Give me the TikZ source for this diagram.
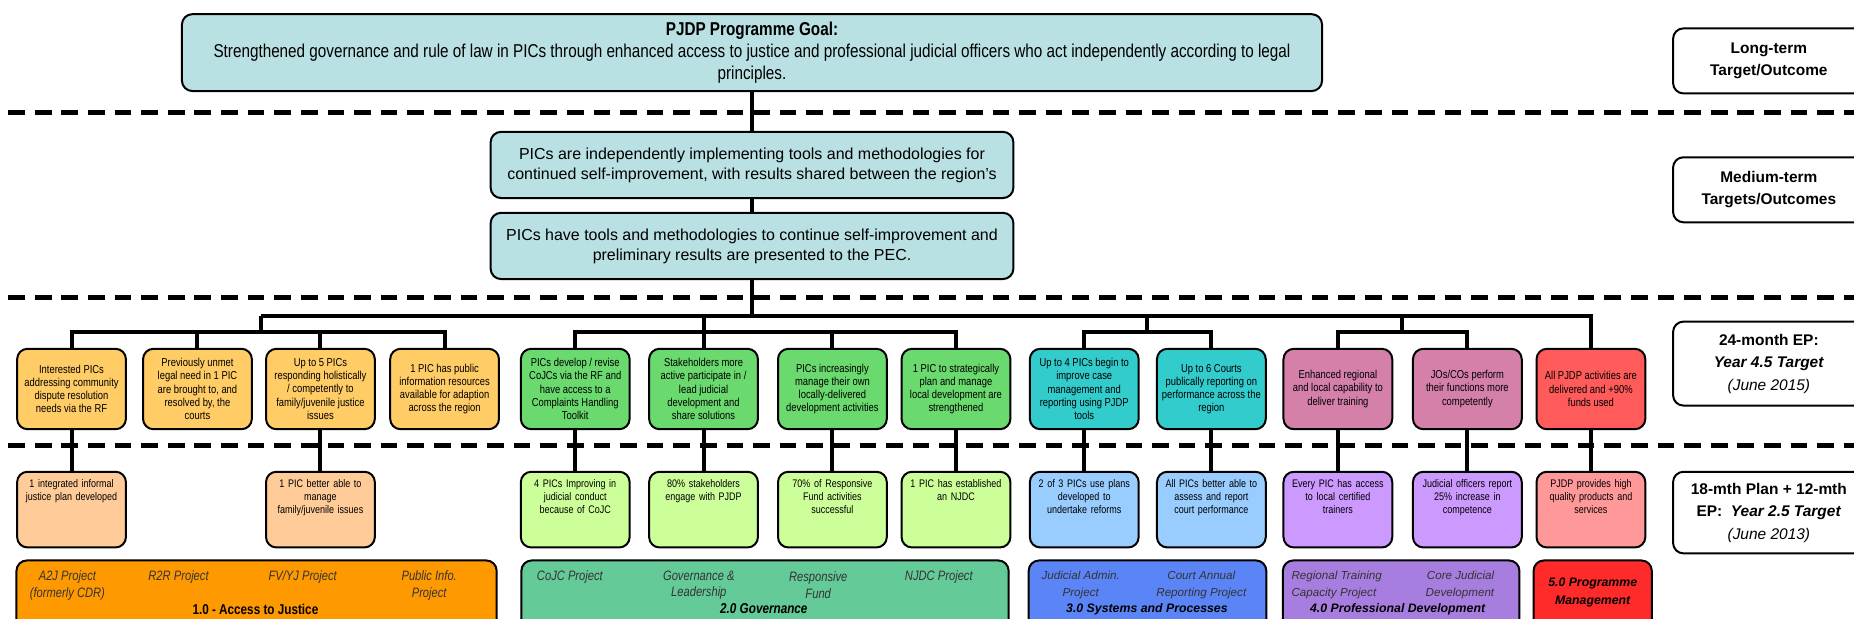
\documentclass[tikz,border=0pt]{standalone}
\usepackage{fontspec}
\setmainfont{Liberation Sans}
\newfontfamily\narrowfont[FakeStretch=0.82]{Liberation Sans}

\definecolor{goalblue}{HTML}{B9E0E2}
\definecolor{ajmid}{HTML}{FFCC66}
\definecolor{govmid}{HTML}{6AD96E}
\definecolor{sysmid}{HTML}{33CCCC}
\definecolor{promid}{HTML}{D580A9}
\definecolor{pmmid}{HTML}{FF5B5B}
\definecolor{ajlight}{HTML}{FFCC99}
\definecolor{govlight}{HTML}{CCFF99}
\definecolor{syslight}{HTML}{99CCFF}
\definecolor{prolight}{HTML}{CC99FF}
\definecolor{pmlight}{HTML}{FF9999}
\definecolor{ajdark}{HTML}{FF9900}
\definecolor{govdark}{HTML}{64CA97}
\definecolor{sysdark}{HTML}{5B85F7}
\definecolor{prodark}{HTML}{A77EE0}
\definecolor{pmdark}{HTML}{FF2A2A}

\begin{document}
\begin{tikzpicture}[x=0.025cm,y=-0.025cm,
  box/.style={draw,line width=1.2pt,rounded corners=0.22cm,align=center,inner sep=1pt},
  goalbox/.style={box,fill=goalblue,minimum width=24.1cm,minimum height=1.625cm,font=\narrowfont\fontsize{11.2}{13.4}\selectfont},
  medbox/.style={box,fill=goalblue,minimum width=11.05cm,minimum height=1.4cm,font=\fontsize{9.6}{12}\selectfont},
  outbox/.style={box,minimum width=2.3cm,minimum height=1.7cm,font=\narrowfont\fontsize{6.9}{7.9}\selectfont},
  lowbox/.style={box,minimum width=2.3cm,minimum height=1.6cm,text width=2.2cm,text height=0.3cm,text depth=1.23cm,font=\narrowfont\fontsize{6.6}{7.9}\selectfont},
  projbox/.style={box,minimum height=1.65cm},
  projtxt/.style={align=center,inner sep=0pt,text=black!80,font=\narrowfont\itshape\fontsize{8.2}{10}\selectfont},
  projtitle/.style={inner sep=0pt,font=\narrowfont\bfseries\fontsize{8.6}{10}\selectfont},
  wideproj/.style={align=center,inner sep=0pt,text=black!80,font=\itshape\fontsize{7}{10}\selectfont},
  widetitle/.style={align=center,inner sep=0pt,font=\bfseries\itshape\fontsize{7.4}{10.5}\selectfont},
  labelbox/.style={box,fill=white,minimum width=4.05cm,font=\bfseries\fontsize{9.3}{13.5}\selectfont},
  conn/.style={line width=2.4pt},
  sep/.style={line width=3pt,dash pattern=on 10pt off 6pt}
]
\useasboundingbox (0,0) rectangle (1568,523.5);
\clip (0,0) rectangle (1568,523.5);

% level separators
\draw[sep] (7,95) -- (1568,95);
\draw[sep] (7,252) -- (1568,252);
\draw[sep] (7,377) -- (1568,377);

% goal and medium-term outcomes
\node[goalbox] (goal) at (636,44.5) {\textbf{PJDP Programme Goal:}\\Strengthened governance and rule of law in PICs through enhanced access to justice and professional judicial officers who act independently according to legal\\principles.};
\node[medbox] (med1) at (636,139.5) {PICs are independently implementing tools and methodologies for\\continued self-improvement, with results shared between the region's};
\node[medbox] (med2) at (636,208) {PICs have tools and methodologies to continue self-improvement and\\preliminary results are presented to the PEC.};

% level labels
\node[labelbox,minimum height=1.375cm] (ltlabel) at (1496,51.5) {Long-term\\Target/Outcome};
\node[labelbox,minimum height=1.375cm] (mtlabel) at (1496,160.5) {Medium-term\\Targets/Outcomes};
\node[labelbox,minimum height=1.775cm] (eplabel) at (1496,307.5) {24-month EP:\\\textit{Year 4.5 Target}\\{\mdseries\itshape (June 2015)}};
\node[labelbox,minimum height=1.725cm] (planlabel) at (1496,433.5) {18-mth Plan + 12-mth\\EP:\ \ \textit{Year 2.5 Target}\\{\mdseries\itshape (June 2013)}};

% 24-month EP targets
\node[outbox,fill=ajmid] (o1) at (60.5,329) {Interested PICs\\addressing community\\dispute resolution\\needs via the RF};
\node[outbox,fill=ajmid] (o2) at (167,329) {Previously unmet\\legal need in 1 PIC\\are brought to, and\\resolved by, the\\courts};
\node[outbox,fill=ajmid] (o3) at (271,329) {Up to 5 PICs\\responding holistically\\/ competently to\\family/juvenile justice\\issues};
\node[outbox,fill=ajmid] (o4) at (376,329) {1 PIC has public\\information resources\\available for adaption\\across the region};
\node[outbox,fill=govmid] (g1) at (486.5,329) {PICs develop / revise\\CoJCs via the RF and\\have access to a\\Complaints Handling\\Toolkit};
\node[outbox,fill=govmid] (g2) at (595,329) {Stakeholders more\\active participate in /\\lead judicial\\development and\\share solutions};
\node[outbox,fill=govmid] (g3) at (704,329) {PICs increasingly\\manage their own\\locally-delivered\\development activities};
\node[outbox,fill=govmid] (g4) at (808.5,329) {1 PIC to strategically\\plan and manage\\local development are\\strengthened};
\node[outbox,fill=sysmid] (t1) at (917,329) {Up to 4 PICs begin to\\improve case\\management and\\reporting using PJDP\\tools};
\node[outbox,fill=sysmid] (t2) at (1024.5,329) {Up to 6 Courts\\publically reporting on\\performance across the\\region};
\node[outbox,fill=promid] (m1) at (1131.5,329) {Enhanced regional\\and local capability to\\deliver training};
\node[outbox,fill=promid] (m2) at (1241,329) {JOs/COs perform\\their functions more\\competently};
\node[outbox,fill=pmmid] (r1) at (1345.5,329) {All PJDP activities are\\delivered and +90\%\\funds used};

% 18-mth plan targets
\node[lowbox,fill=ajlight] (lo1) at (60.5,431) {1 integrated informal\\justice plan developed};
\node[lowbox,fill=ajlight] (lo3) at (271,431) {1 PIC better able to\\manage\\family/juvenile issues};
\node[lowbox,fill=govlight] (lg1) at (486.5,431) {4 PICs Improving in\\judicial conduct\\because of CoJC};
\node[lowbox,fill=govlight] (lg2) at (595,431) {80\% stakeholders\\engage with PJDP};
\node[lowbox,fill=govlight] (lg3) at (704,431) {70\% of Responsive\\Fund activities\\successful};
\node[lowbox,fill=govlight] (lg4) at (808.5,431) {1 PIC has established\\an NJDC};
\node[lowbox,fill=syslight] (lt1) at (917,431) {2 of 3 PICs use plans\\developed to\\undertake reforms};
\node[lowbox,fill=syslight] (lt2) at (1024.5,431) {All PICs better able to\\assess and report\\court performance};
\node[lowbox,fill=prolight] (lm1) at (1131.5,431) {Every PIC has access\\to local certified\\trainers};
\node[lowbox,fill=prolight] (lm2) at (1241,431) {Judicial officers report\\25\% increase in\\competence};
\node[lowbox,fill=pmlight] (lr1) at (1345.5,431) {PJDP provides high\\quality products and\\services};

% project areas
\node[projbox,fill=ajdark,minimum width=10.15cm] (ajproj) at (217,507) {};
\node[projtxt] (a2j) at (57,495) {A2J Project\\(formerly CDR)};
\node[projtxt] (r2r) at (151,488) {R2R Project};
\node[projtxt] (fvyj) at (256,488) {FV/YJ Project};
\node[projtxt] (pinfo) at (363,495) {Public Info.\\Project};
\node[projtitle] (ajtitle) at (216,515) {1.0 - Access to Justice};

\node[projbox,fill=govdark,minimum width=10.3cm] (govproj) at (647,507) {};
\node[projtxt] (cojc) at (482,488) {CoJC Project};
\node[projtxt] (gandl) at (591,495) {Governance \&\\Leadership};
\node[projtxt] (rfund) at (692,495) {Responsive\\Fund};
\node[projtxt] (njdc) at (794,488) {NJDC Project};
\node[projtitle,font=\narrowfont\bfseries\itshape\fontsize{8.6}{10}\selectfont] (govtitle) at (646,515) {2.0 Governance};

\node[projbox,fill=sysdark,minimum width=5.025cm] (sysproj) at (970.5,507) {};
\node[wideproj] (jadmin) at (914,495) {Judicial Admin.\\Project};
\node[wideproj] (carp) at (1016,495) {Court Annual\\Reporting Project};
\node[widetitle] (systitle) at (970,515.5) {3.0 Systems and Processes};

\node[projbox,fill=prodark,minimum width=5cm] (proproj) at (1185,507) {};
\node[wideproj,align=left,anchor=west] (rtcp) at (1092,495) {Regional Training\\Capacity Project};
\node[wideproj,align=right,anchor=east] (cjd) at (1264,495) {Core Judicial\\Development};
\node[widetitle] (protitle) at (1182,515.5) {4.0 Professional Development};

\node[projbox,fill=pmdark,minimum width=2.5cm] (pmproj) at (1347,507) {};
\node[widetitle] (pmtitle) at (1347,501) {5.0 Programme\\Management};

% trunk and buses
\coordinate (busL) at (221,267);
\coordinate (gy) at (0,281);
\coordinate (tdrop) at (970,267);
\coordinate (mdrop) at (1186,267);
\draw[conn] (goal.south) -- (med1.north);
\draw[conn] (med1.south) -- (med2.north);
\draw[conn] (med2.south) -- (med2.south |- busL);
\draw[conn] (busL) -- (busL -| r1.north) -- (r1.north);

\draw[conn] (busL) -- (busL |- gy);
\draw[conn] (o1.north) |- (gy -| o4.north) -- (o4.north);
\draw[conn] (o2.north) -- (o2.north |- gy);
\draw[conn] (o3.north) -- (o3.north |- gy);

\draw[conn] (g2.north) -- (g2.north |- busL);
\draw[conn] (g1.north) |- (gy -| g4.north) -- (g4.north);
\draw[conn] (g3.north) -- (g3.north |- gy);

\draw[conn] (tdrop) -- (tdrop |- gy);
\draw[conn] (t1.north) |- (gy -| t2.north) -- (t2.north);

\draw[conn] (mdrop) -- (mdrop |- gy);
\draw[conn] (m1.north) |- (gy -| m2.north) -- (m2.north);

% 24-month to 18-mth links
\draw[conn] (o1.south) -- (lo1.north);
\draw[conn] (o3.south) -- (lo3.north);
\draw[conn] (g1.south) -- (lg1.north);
\draw[conn] (g2.south) -- (lg2.north);
\draw[conn] (g3.south) -- (lg3.north);
\draw[conn] (g4.south) -- (lg4.north);
\draw[conn] (t1.south) -- (lt1.north);
\draw[conn] (t2.south) -- (lt2.north);
\draw[conn] (m1.south) -- (lm1.north);
\draw[conn] (m2.south) -- (lm2.north);
\draw[conn] (r1.south) -- (lr1.north);
\end{tikzpicture}
\end{document}
